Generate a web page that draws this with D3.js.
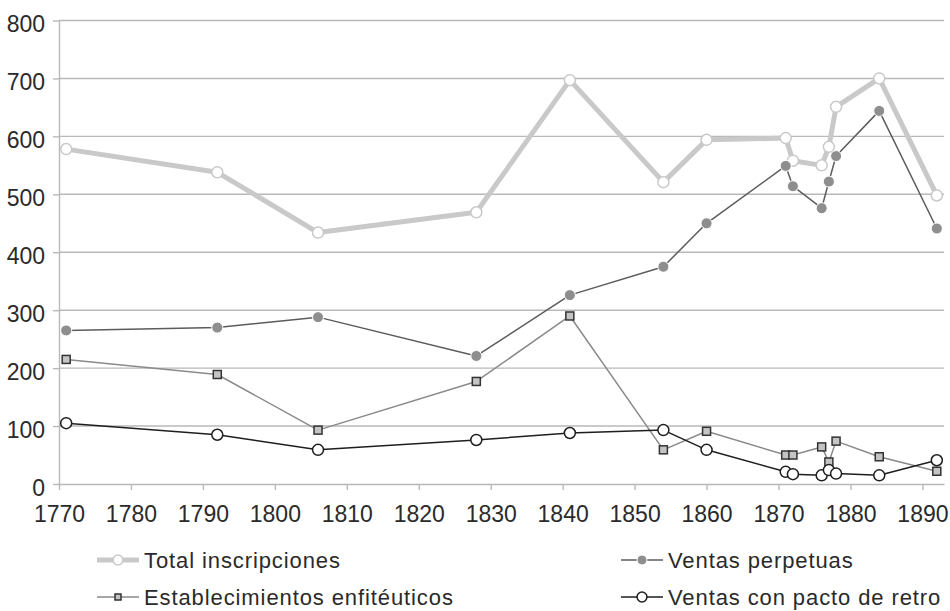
<!DOCTYPE html>
<html>
<head>
<meta charset="utf-8">
<script src="https://cdn.jsdelivr.net/npm/d3@7"></script>
<style>
  body { margin: 0; background: #fff; }
  svg { display: block; font-family: "Liberation Sans", Arial, sans-serif; }
</style>
</head>
<body>
<svg id="chart"></svg>
<script>
// data
const years = [1771, 1792, 1806, 1828, 1841, 1854, 1860, 1871, 1872, 1876, 1877, 1878, 1884, 1892];
const totalInscripciones = [578, 538, 434, 469, 697, 521, 594, 597, 558, 550, 582, 651, 700, 498];
const ventasPerpetuas = [265, 270, 288, 221, 326, 375, 450, 549, 514, 476, 522, 566, 644, 441];
const establecimientos = [215, 189, 93, 177, 290, 59, 91, 50, 50, 64, 38, 74, 47, 22];
const ventasRetro = [105, 85, 59, 76, 88, 93, 59, 21, 17, 15, 24, 18, 15, 41];
const xTicks = [1770, 1780, 1790, 1800, 1810, 1820, 1830, 1840, 1850, 1860, 1870, 1880, 1890];
const yTicks = [0, 100, 200, 300, 400, 500, 600, 700, 800];
const seriesNames = ["Total inscripciones", "Ventas perpetuas", "Establecimientos enfitéuticos", "Ventas con pacto de retro"];

class LineChart {
  constructor(_config) {
    this.config = {
      parentElement: _config.parentElement,
      containerWidth: 950,
      containerHeight: 611,
      margin: { top: 20.5, bottom: 127, right: 6, left: 59 }
    }
    this.initVis();
  }

  initVis() {
    let vis = this;
    vis.width = vis.config.containerWidth - vis.config.margin.left - vis.config.margin.right;
    vis.height = vis.config.containerHeight - vis.config.margin.top - vis.config.margin.bottom;

    vis.svg = d3.select(vis.config.parentElement)
        .attr('width', vis.config.containerWidth)
        .attr('height', vis.config.containerHeight);

    vis.chart = vis.svg.append('g')
        .attr('transform', `translate(${vis.config.margin.left},${vis.config.margin.top})`);

    vis.xScale = d3.scaleLinear()
        .domain([1770, 1893])
        .range([0, vis.width]);

    vis.yScale = d3.scaleLinear()
        .domain([0, 800])
        .range([vis.height, 0]);

    vis.series = [
      { name: seriesNames[0], values: totalInscripciones, stroke: '#c9c9c9', width: 5, marker: 'circle', r: 5.5, fill: '#fff', mStroke: '#c9c9c9', sw: 1.5 },
      { name: seriesNames[1], values: ventasPerpetuas, stroke: '#5c5c5c', width: 1.5, marker: 'circle', r: 5.5, fill: '#8e8e8e', mStroke: '#fff', sw: 1 },
      { name: seriesNames[2], values: establecimientos, stroke: '#8a8a8a', width: 1.5, marker: 'square', r: 4, fill: '#c4c4c4', mStroke: '#333', sw: 1.5 },
      { name: seriesNames[3], values: ventasRetro, stroke: '#1e1e1e', width: 1.5, marker: 'circle', r: 5.5, fill: '#fff', mStroke: '#1e1e1e', sw: 1.5 }
    ];

    vis.renderVis();
  }

  renderVis() {
    let vis = this;

    // gridlines
    vis.chart.append('g')
        .attr('class', 'grid')
        .selectAll('line')
        .data(yTicks.filter(d => d > 0))
        .join('line')
        .attr('x1', 0)
        .attr('x2', vis.width)
        .attr('y1', d => vis.yScale(d))
        .attr('y2', d => vis.yScale(d))
        .attr('stroke', '#b9b9b9')
        .attr('stroke-width', 1.4);

    // axes
    let xAxis = d3.axisBottom(vis.xScale)
        .tickValues(xTicks)
        .tickFormat(d3.format('d'))
        .tickSizeInner(6)
        .tickSizeOuter(0)
        .tickPadding(16);

    let yAxis = d3.axisLeft(vis.yScale)
        .tickValues(yTicks)
        .tickSizeInner(6)
        .tickSizeOuter(0)
        .tickPadding(8);

    let xg = vis.chart.append('g')
        .attr('transform', `translate(0,${vis.height})`)
        .call(xAxis);
    let yg = vis.chart.append('g').call(yAxis);

    [xg, yg].forEach(g => {
      g.select('.domain').attr('stroke', '#b9b9b9').attr('stroke-width', 1.4);
      g.selectAll('.tick line').attr('stroke', '#b9b9b9').attr('stroke-width', 1.4);
      g.selectAll('.tick text')
          .attr('fill', '#2a2a2a')
          .style('font-size', '23px')
          .style('font-family', '"Liberation Sans", Arial, sans-serif');
    });
    yg.selectAll('.tick text').attr('dy', '0.48em');

    // lines + markers
    vis.series.forEach(s => {
      let line = d3.line()
          .x((d, i) => vis.xScale(years[i]))
          .y(d => vis.yScale(d));

      vis.chart.append('path')
          .datum(s.values)
          .attr('fill', 'none')
          .attr('stroke', s.stroke)
          .attr('stroke-width', s.width)
          .attr('stroke-linejoin', 'round')
          .attr('d', line);

      vis.drawMarkers(vis.chart, s, s.values.map((d, i) => [vis.xScale(years[i]), vis.yScale(d)]));
    });

    // legend
    let legendPos = [[97, 560], [621, 560], [97, 597], [621, 597]];
    vis.series.forEach((s, i) => {
      let [lx, ly] = legendPos[i];
      let g = vis.svg.append('g').attr('transform', `translate(${lx},${ly})`);
      g.append('line')
          .attr('x1', 0).attr('x2', 42)
          .attr('stroke', s.stroke)
          .attr('stroke-width', s.width);
      vis.drawMarkers(g, s, [[21, 0]], s.marker === 'square' ? 0.75 : 0.9);
      g.append('text')
          .attr('x', 47)
          .attr('dy', '0.36em')
          .attr('fill', '#2a2a2a')
          .style('font-size', '22px')
          .style('letter-spacing', '0.9px')
          .text(s.name);
    });
  }

  drawMarkers(parent, s, pts, k = 1) {
    if (s.marker === 'square') {
      parent.selectAll(null)
          .data(pts)
          .join('rect')
          .attr('x', d => d[0] - s.r * k)
          .attr('y', d => d[1] - s.r * k)
          .attr('width', 2 * s.r * k)
          .attr('height', 2 * s.r * k)
          .attr('fill', s.fill)
          .attr('stroke', s.mStroke)
          .attr('stroke-width', s.sw);
    } else {
      parent.selectAll(null)
          .data(pts)
          .join('circle')
          .attr('cx', d => d[0])
          .attr('cy', d => d[1])
          .attr('r', s.r * k)
          .attr('fill', s.fill)
          .attr('stroke', s.mStroke)
          .attr('stroke-width', s.sw);
    }
  }
}

new LineChart({ parentElement: '#chart' });
</script>
</body>
</html>
